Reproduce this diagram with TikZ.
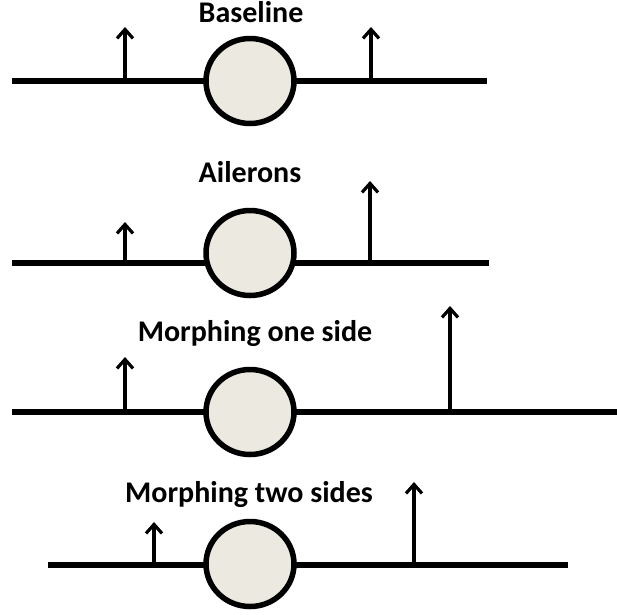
\documentclass[tikz,border=0pt]{standalone}
\usepackage{fontspec}
\setmainfont{Carlito}
\usetikzlibrary{arrows.meta,shapes.geometric}
\definecolor{hubfill}{RGB}{236,234,224}
\begin{document}
\begin{tikzpicture}[x=1pt,y=-1pt,
  wing/.style={line width=6.5pt},
  hub/.style={ellipse,draw=black,line width=5.5pt,fill=hubfill,minimum width=88pt,minimum height=85pt,inner sep=0pt},
  lift/.style={line width=3.2pt,-{Straight Barb[length=9pt,width=16pt]}},
  title/.style={font=\bfseries\fontsize{30}{36}\selectfont,anchor=base,inner sep=0pt}]
\useasboundingbox (0,0) rectangle (617,614);
% Row 1
\coordinate (w1l) at (12,81); \coordinate (w1r) at (487,81);
\draw[wing] (w1l) -- (w1r);
\node[hub] (h1) at (250,81) {};
\coordinate (a1a) at (125,81); \coordinate (a1b) at (125,27);
\coordinate (b1a) at (371,81); \coordinate (b1b) at (371,27);
\draw[lift] (a1a) -- (a1b);
\draw[lift] (b1a) -- (b1b);
\node[title] (t1) at (251,22) {Baseline};
% Row 2
\coordinate (w2l) at (12,263); \coordinate (w2r) at (489,263);
\draw[wing] (w2l) -- (w2r);
\node[hub] (h2) at (250,253) {};
\coordinate (a2a) at (125,263); \coordinate (a2b) at (125,222);
\coordinate (b2a) at (370,263); \coordinate (b2b) at (370,181);
\draw[lift] (a2a) -- (a2b);
\draw[lift] (b2a) -- (b2b);
\node[title] (t2) at (250,182) {Ailerons};
% Row 3
\coordinate (w3l) at (12,412); \coordinate (w3r) at (617,412);
\draw[wing] (w3l) -- (w3r);
\node[hub] (h3) at (250,412) {};
\coordinate (a3a) at (125,412); \coordinate (a3b) at (125,357);
\coordinate (b3a) at (450,412); \coordinate (b3b) at (450,306);
\draw[lift] (a3a) -- (a3b);
\draw[lift] (b3a) -- (b3b);
\node[title] (t3) at (255,341) {Morphing one side};
% Row 4
\coordinate (w4l) at (48,565); \coordinate (w4r) at (568,565);
\draw[wing] (w4l) -- (w4r);
\node[hub] (h4) at (250,564) {};
\coordinate (a4a) at (154,565); \coordinate (a4b) at (154,522);
\coordinate (b4a) at (414,565); \coordinate (b4b) at (414,482);
\draw[lift] (a4a) -- (a4b);
\draw[lift] (b4a) -- (b4b);
\node[title] (t4) at (249,502) {Morphing two sides};
\end{tikzpicture}
\end{document}
